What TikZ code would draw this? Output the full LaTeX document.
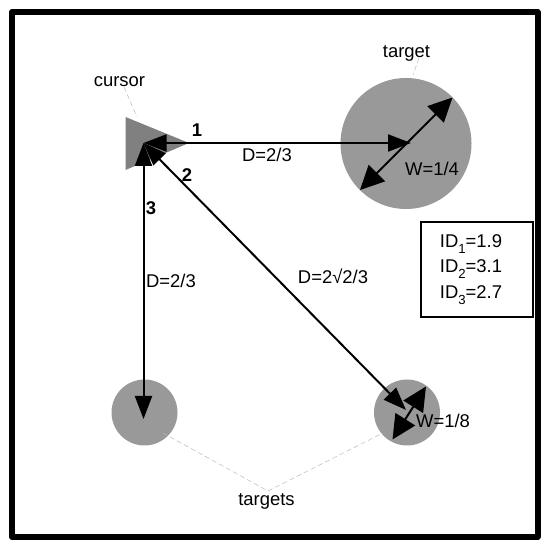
\documentclass[tikz,border=0pt]{standalone}
\usepackage{fontspec}
\setmainfont{Liberation Sans}
\usetikzlibrary{arrows.meta, shapes.geometric, positioning}
\newcommand{\idsub}[1]{\raisebox{-.6ex}{\fontsize{7.5}{9}\selectfont #1}}
\tikzset{
    disc/.style={circle, fill=discgray, inner sep=0pt},
    lab/.style={font=\fontsize{10.5}{14.4}\selectfont, inner sep=0pt},
    numlab/.style={font=\fontsize{10.5}{14}\selectfont\bfseries, inner sep=0pt},
    guide/.style={draw=guidegray, line width=.01cm, dash pattern=on .1cm off .06cm},
    dist/.style={line width=.04cm, {Triangle[length=.46cm,width=.34cm]}-{Triangle[length=.46cm,width=.34cm]}},
    size/.style={line width=.04cm, {Triangle[length=.48cm,width=.46cm]}-{Triangle[length=.48cm,width=.46cm]}}
}
\definecolor{discgray}{HTML}{999999}
\definecolor{curgray}{HTML}{808080}
\definecolor{guidegray}{HTML}{BBBBBB}
\begin{document}
\begin{tikzpicture}
\useasboundingbox (0,0) rectangle (11,10.98);
\fill[white] (0,0) rectangle (11,10.98);
\draw[line width=.12cm, line join=round] (.24,.24) rectangle (10.75,10.74); %frame
% targets
\node[disc, minimum size=2.62cm] (tgtA) at (8.12,8.11) {};
\node[disc, minimum size=1.32cm] (tgtB) at (2.89,2.73) {};
\node[disc, minimum size=1.32cm] (tgtC) at (8.14,2.73) {};
% cursor
\coordinate (curA) at (2.51,8.64);
\coordinate (curB) at (2.51,7.58);
\coordinate (curC) at (3.78,8.12);
\fill[curgray] (curA) -- (curB) -- (curC) -- cycle;
\coordinate (cur) at (2.87,8.12);
% arrow ends
\coordinate (endA) at (8.22,8.12);
\coordinate (endB) at (2.87,2.60);
\coordinate (endC) at (8.12,2.78);
\coordinate (wAa) at (7.20,7.18);
\coordinate (wAb) at (9.05,9.03);
\coordinate (wBa) at (7.85,2.19);
\coordinate (wBb) at (8.52,3.25);
\draw[dist] (cur) -- (endA);
\draw[dist] (cur) -- (endB);
\draw[dist] (cur) -- (endC);
\draw[size] (wAa) -- (wAb);
\draw[size] (wBa) -- (wBb);
% labels
\node[lab] (lcur) at (2.39,9.34) {cursor};
\node[lab] (ltgt) at (8.13,9.91) {target};
\node[lab] (ltgts) at (5.33,.96) {targets};
\node[numlab] (nA) at (3.94,8.38) {1};
\node[numlab] (nB) at (3.74,7.48) {2};
\node[numlab] (nC) at (3.02,6.82) {3};
\node[lab] (dA) at (5.34,7.88) {D=2/3};
\node[lab] (dB) at (3.42,5.36) {D=2/3};
\node[lab] (dC) at (6.66,5.46) {D=2√2/3};
\node[lab] (wA) at (8.64,7.60) {W=1/4};
\node[lab] (wB) at (8.86,2.56) {W=1/8};
\node[draw, line width=.04cm, minimum width=2.24cm, minimum height=1.89cm, inner sep=0pt] (ids) at (9.54,5.59) {};
\node[lab, align=left, xshift=-.12cm] (idtxt) at (ids)
    {ID\idsub{1}=1.9\\ID\idsub{2}=3.1\\ID\idsub{3}=2.7};
% leader lines
\coordinate (cura) at (2.48,9.24);
\coordinate (curb) at (2.74,8.64);
\coordinate (tgta) at (8.38,9.82);
\coordinate (tgtb) at (8.26,9.48);
\coordinate (tsa) at (3.26,2.32);
\coordinate (tsm) at (5.36,1.16);
\coordinate (tsb) at (7.66,2.32);
\draw[guide] (cura) -- (curb);
\draw[guide] (tgta) -- (tgtb);
\draw[guide] (tsa) -- (tsm) -- (tsb);
\end{tikzpicture}
\end{document}
